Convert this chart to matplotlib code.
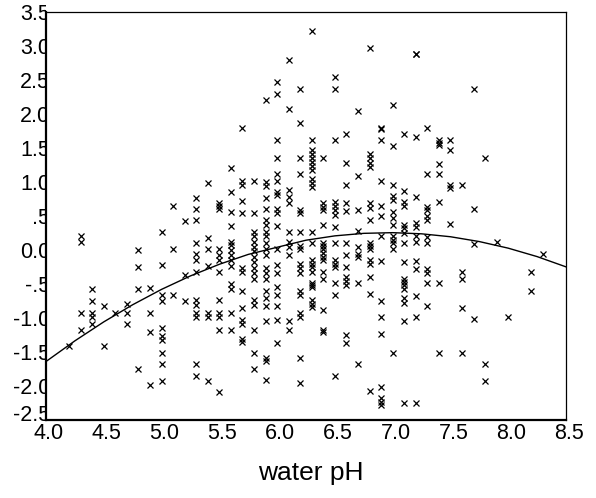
import numpy as np
import matplotlib
matplotlib.use("Agg")
import matplotlib.pyplot as plt
from matplotlib.transforms import Bbox, TransformedBbox, ScaledTranslation

plt.rcParams['font.family'] = ['Liberation Sans', 'DejaVu Sans']

# residuals, one list per pH column
col_ph = [4.2, 4.3, 4.4, 4.5, 4.6, 4.7, 4.8, 4.9, 5.0, 5.1, 5.2, 5.3, 5.4, 5.5,
          5.6, 5.7, 5.8, 5.9, 6.0, 6.1, 6.2, 6.3, 6.4, 6.5, 6.6, 6.7, 6.8, 6.9,
          7.0, 7.1, 7.2, 7.3, 7.4, 7.5, 7.6, 7.7, 7.8, 7.9, 8.0, 8.2, 8.3]
col_vals = [
    [-1.41],
    [0.20, 0.12, -0.92, -1.17],
    [-0.58, -0.75, -0.92, -0.98, -1.09],
    [-0.83, -1.41],
    [-0.92],
    [-0.80, -0.92, -1.09],
    [0.00, -0.245, -0.58, -1.75],
    [-0.56, -0.92, -1.20, -1.99],
    [0.26, -0.22, -0.66, -0.75, -1.14, -1.27, -1.32, -1.51, -1.68, -1.93],
    [0.64, 0.02, -0.66],
    [0.42, -0.37, -0.75],
    [0.77, 0.60, 0.44, 0.10, -0.06, -0.15, -0.32, -0.74, -0.81, -0.93, -0.99, -1.68, -1.85],
    [0.98, 0.18, 0.02, -0.24, -0.92, -0.98, -1.93],
    [0.69, 0.64, 0.60, 0.02, -0.07, -0.14, -0.32, -0.74, -0.92, -0.98, -1.17, -2.09],
    [1.20, 0.86, 0.56, 0.36, 0.12, 0.07, 0.0, -0.07, -0.15, -0.24, -0.50, -0.58, -0.93, -1.17],
    [1.79, 1.02, 0.96, 0.72, 0.54, -0.27, -0.33, -0.60, -0.86, -1.03, -1.09, -1.31, -1.36],
    [1.02, 0.54, 0.27, 0.20, 0.12, 0.05, -0.02, -0.10, -0.17, -0.27, -0.34, -0.42, -0.74, -0.81,
     -1.17, -1.51, -1.75],
    [2.21, 1.00, 0.94, 0.77, 0.60, 0.44, 0.37, 0.27, 0.20, 0.10, 0.02, -0.07, -0.27, -0.34, -0.42,
     -0.60, -0.71, -0.83, -1.04, -1.59, -1.63, -1.91],
    [2.47, 2.29, 1.62, 1.36, 1.12, 1.02, 0.86, 0.81, 0.60, 0.55, 0.36, 0.02, -0.22, -0.34, -0.54,
     -0.66, -0.83, -1.03, -1.37],
    [2.79, 2.07, 0.88, 0.78, 0.69, 0.26, 0.12, 0.05, -0.07, -1.05, -1.17],
    [2.37, 1.87, 1.36, 1.12, 0.59, 0.55, 0.26, 0.06, 0.02, -0.20, -0.27, -0.34, -0.60, -0.66,
     -0.93, -0.99, -1.59, -1.95],
    [3.22, 1.62, 1.47, 1.41, 1.35, 1.29, 1.23, 1.17, 1.05, 0.99, 0.93, 0.27, 0.10, -0.14, -0.20,
     -0.25, -0.32, -0.48, -0.51, -0.55, -0.74, -0.79, -0.84],
    [1.36, 0.69, 0.63, 0.59, 0.37, 0.11, 0.06, 0.01, -0.04, -0.10, -0.15, -0.32, -0.42, -0.88,
     -1.17, -1.21],
    [2.55, 2.37, 1.62, 0.70, 0.64, 0.59, 0.51, 0.34, 0.11, -0.15, -0.20, -0.25, -0.49, -0.66, -1.85],
    [1.70, 1.28, 0.95, 0.69, 0.57, 0.11, -0.07, -0.25, -0.39, -0.45, -0.51, -1.25, -1.37],
    [2.04, 1.09, 0.59, 0.28, 0.05, -0.06, -0.10, -0.49, -1.67],
    [2.97, 1.41, 1.35, 1.28, 1.22, 0.69, 0.62, 0.44, 0.11, 0.06, 0.01, -0.15, -0.20, -0.39,
     -0.65, -2.08],
    [1.80, 1.78, 1.62, 1.02, 0.64, 0.50, 0.21, -0.16, -0.75, -0.99, -1.24, -2.01, -2.18, -2.23, -2.28],
    [2.13, 1.53, 0.96, 0.79, 0.74, 0.56, 0.47, 0.37, 0.20, 0.15, 0.10, 0.02, -1.51],
    [1.70, 0.87, 0.71, 0.64, 0.37, 0.32, 0.25, 0.11, -0.18, -0.42, -0.47, -0.51, -0.58, -0.71,
     -0.78, -1.05, -2.25],
    [2.88, 2.88, 1.66, 0.78, 0.40, 0.34, 0.20, 0.12, -0.16, -0.28, -0.67, -0.99, -2.25],
    [1.80, 1.12, 0.63, 0.59, 0.50, 0.44, 0.19, 0.11, -0.28, -0.34, -0.49, -0.82],
    [1.62, 1.58, 1.55, 1.26, 1.12, 0.71, -0.49, -1.51],
    [1.62, 1.47, 0.95, 0.91, 0.38],
    [0.95, -0.33, -0.42, -0.86, -1.51],
    [2.37, 0.60, 0.09, -1.01],
    [1.36, -1.68, -1.93],
    [0.12],
    [-0.99],
    [-0.33, -0.61],
    [-0.06],
]

# quadratic fit line, read at quarter-pH steps
curve_ph = [4.0, 4.25, 4.5, 4.75, 5.0, 5.25, 5.5, 5.75, 6.0, 6.25, 6.5, 6.75, 7.0,
            7.25, 7.5, 7.75, 8.0, 8.25, 8.5]
curve_y = [-1.64, -1.336, -1.057, -0.805, -0.579, -0.381, -0.21, -0.065, 0.04, 0.144,
           0.208, 0.245, 0.255, 0.238, 0.195, 0.124, 0.027, -0.097, -0.248]

xticks = [4.0, 4.5, 5.0, 5.5, 6.0, 6.5, 7.0, 7.5, 8.0, 8.5]
yticks = [-2.5, -2.0, -1.5, -1.0, -0.5, 0.0, 0.5, 1.0, 1.5, 2.0, 2.5, 3.0, 3.5]
ytick_labels = ['-2.5', '-2.0', '-1.5', '-1.0', '-.5', '0.0', '.5', '1.0', '1.5',
                '2.0', '2.5', '3.0', '3.5']

ph = []
resid = []
for p, vals in zip(col_ph, col_vals):
    ph += [p] * len(vals)
    resid += vals

fig = plt.figure(figsize=(5.96, 4.98), dpi=100)
ax = fig.add_axes([46 / 596, 1 - 420 / 498, 520 / 596, 408 / 498])

ax.plot(ph, resid, 'x', color='black', markersize=3.8, markeredgewidth=0.9)
ax.plot(curve_ph, curve_y, '-', color='black', linewidth=1.0)

ax.set_xlim(4.0, 8.5)
ax.set_ylim(-2.5, 3.5)
ax.set_xticks(xticks)
ax.set_xticklabels(['%.1f' % t for t in xticks])
ax.set_yticks(yticks)
ax.set_yticklabels(ytick_labels)
ax.tick_params(axis='both', length=0, labelsize=15.5, colors='black')
ax.tick_params(axis='x', pad=2)
ax.tick_params(axis='y', pad=-3)

for side in ['left', 'bottom']:
    ax.spines[side].set_linewidth(1.6)
for side in ['top', 'right']:
    ax.spines[side].set_linewidth(0.9)

# y labels run into the frame and get cut off at the axis line
clip = TransformedBbox(Bbox([[-1, -1], [0, 2]]), ax.transAxes)
ylabs = ax.get_yticklabels()
for lab in ylabs:
    lab.set_clip_box(clip)
    lab.set_clip_on(True)
# bottom label sits a bit higher, clear of the x labels
ylabs[0].set_transform(ylabs[0].get_transform() + ScaledTranslation(0, 0.07, fig.dpi_scale_trans))

# x labels sit slightly right of their ticks
for lab in ax.get_xticklabels():
    lab.set_transform(lab.get_transform() + ScaledTranslation(0.03, 0, fig.dpi_scale_trans))

ax.set_xlabel('water pH', fontsize=19)
ax.xaxis.set_label_coords(0.51, -0.1)

fig.savefig('out.png', dpi=100)
